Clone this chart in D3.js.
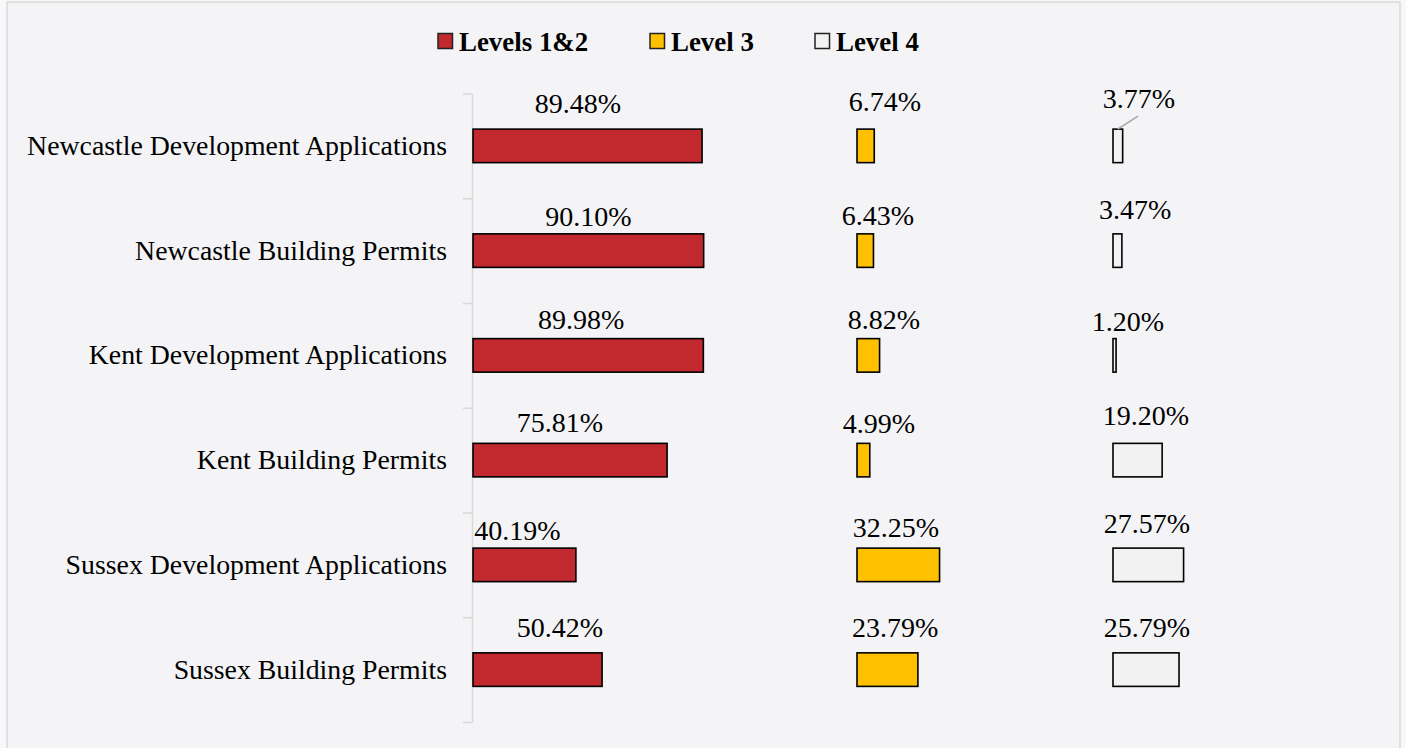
<!DOCTYPE html>
<html>
<head>
<meta charset="utf-8">
<script src="https://cdn.jsdelivr.net/npm/d3@7"></script>
<style>
  html, body { margin: 0; padding: 0; background: #f8f8fa; }
  svg { display: block; }
  text { font-family: "Liberation Serif", "Times New Roman", serif; fill: #000; }
</style>
</head>
<body>
<svg id="chart" width="1406" height="748"></svg>
<script>
// ---- data ----
const categories = [
  "Newcastle Development Applications",
  "Newcastle Building Permits",
  "Kent Development Applications",
  "Kent Building Permits",
  "Sussex Development Applications",
  "Sussex Building Permits"
];
const seriesNames = ["Levels 1&2", "Level 3", "Level 4"];
const levels12 = [89.48, 90.10, 89.98, 75.81, 40.19, 50.42];
const level3   = [6.74, 6.43, 8.82, 4.99, 32.25, 23.79];
const level4   = [3.77, 3.47, 1.20, 19.20, 27.57, 25.79];
// panel offsets (stacked spacer layout, in percent units)
const seriesStart = [0, 150, 250];

// ---- layout / style (kept apart from data) ----
const colors = ["#C1292E", "#FFC000", "#F2F2F2"];
// manual label nudges [dx, dy] in px from default (bar centre, above bar)
const labelNudge = [
  [[-9.5,-6],[0,2],[-7,0],[-10,-1],[-7,2],[22.5,-6]],
  [[19.4,-8],[12.8,1],[15.7,0],[15.6,0],[-2.3,-1],[7.6,-6]],
  [[21.2,-11],[17.6,-5],[13.5,2],[8.4,-8],[-1.3,-5],[1,-6]]
];
const leaderFor = [[2, 0]]; // [series, category] labels with leader line

const seriesValues = [levels12, level3, level4];
const svg = d3.select("#chart");

// chart area frame
svg.append("rect")
  .attr("x", 7).attr("y", 2).attr("width", 1393).attr("height", 760)
  .attr("fill", "#f4f4f6").attr("stroke", "#d9d9d9").attr("stroke-width", 1.5);

const x = d3.scaleLinear().domain([0, 350]).range([473, 473 + 896]);
const y = d3.scaleBand().domain(categories).range([93.5, 722])
  .paddingInner(0.68).paddingOuter(0.34);
const yLin = d3.scaleLinear().domain([0, categories.length]).range([93.5, 722]);

// axis with ticks at category boundaries
const axisG = svg.append("g").attr("transform", "translate(472,0)")
  .call(d3.axisLeft(yLin).tickValues(d3.range(categories.length + 1))
    .tickSize(9).tickSizeOuter(0).tickFormat(""));
axisG.selectAll("path, line").attr("stroke", "#d9d9d9").attr("stroke-width", 1.5);

// category labels
svg.append("g").selectAll("text").data(categories).join("text")
  .attr("x", 447)
  .attr("y", d => y(d) + y.bandwidth() / 2 + 9)
  .attr("text-anchor", "end")
  .attr("font-size", 27.8)
  .text(d => d);

// bars
seriesValues.forEach((vals, si) => {
  const g = svg.append("g");
  const x0 = x(seriesStart[si]);
  g.selectAll("rect").data(vals).join("rect")
    .attr("x", x0)
    .attr("y", (d, i) => y(categories[i]))
    .attr("width", d => x(seriesStart[si] + d) - x0)
    .attr("height", y.bandwidth())
    .attr("fill", colors[si])
    .attr("stroke", "#000")
    .attr("stroke-width", 1.6);

  // leader lines
  leaderFor.filter(l => l[0] === si).forEach(([s, ci]) => {
    const d = vals[ci];
    const bx = x(seriesStart[si] + d);
    const by = y(categories[ci]);
    const lx = (x0 + bx) / 2 + labelNudge[si][ci][0];
    g.append("line")
      .attr("x1", bx - 5).attr("y1", by)
      .attr("x2", lx - 1).attr("y2", by - 13)
      .attr("stroke", "#a6a6a6").attr("stroke-width", 1.5);
  });

  g.selectAll("text").data(vals).join("text")
    .attr("x", (d, i) => (x0 + x(seriesStart[si] + d)) / 2 + labelNudge[si][i][0])
    .attr("y", (d, i) => y(categories[i]) - 10 + labelNudge[si][i][1])
    .attr("text-anchor", "middle")
    .attr("font-size", 28)
    .text(d => d.toFixed(2) + "%");
});

// legend
const legendX = [438, 650, 815];
const lg = svg.append("g");
seriesNames.forEach((n, si) => {
  lg.append("rect")
    .attr("x", legendX[si]).attr("y", 33.5).attr("width", 14.5).attr("height", 15)
    .attr("fill", colors[si]).attr("stroke", "#222").attr("stroke-width", 1.5);
  lg.append("text")
    .attr("x", legendX[si] + 21).attr("y", 50.5)
    .attr("font-size", 26.9).attr("font-weight", "bold")
    .text(n);
});
</script>
</body>
</html>
